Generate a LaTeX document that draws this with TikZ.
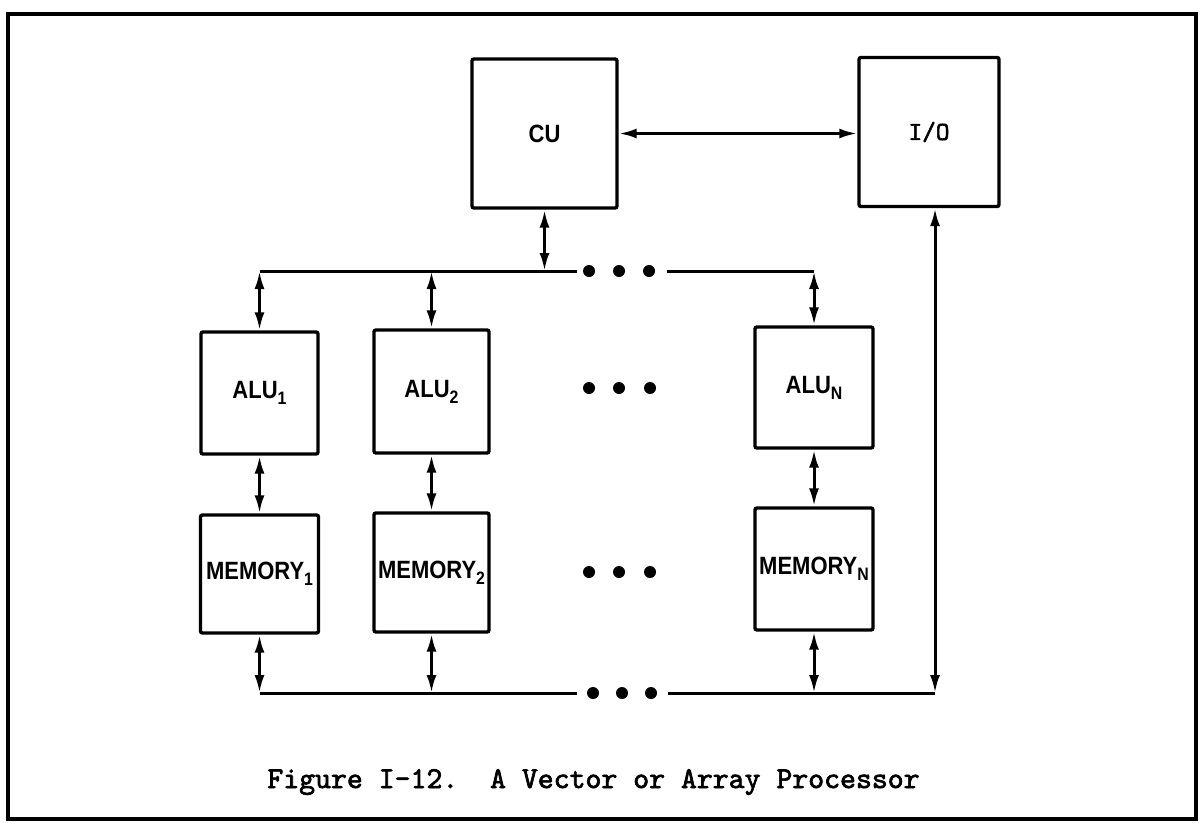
\documentclass[tikz,border=0pt]{standalone}
\usepackage{fontspec}
\newfontfamily\letterfont[FakeStretch=0.88]{Liberation Sans}
\newfontfamily\typefont{lmmono10-regular}[Extension=.otf, AutoFakeBold=2.2]
\usetikzlibrary{arrows.meta}
\newcommand\lsub[1]{\raisebox{-6pt}{\fontsize{18}{18}\selectfont #1}}

\begin{document}
\begin{tikzpicture}[x=1pt, y=-1pt, >={Latex[length=18pt, width=10pt]},
  box/.style={draw, line width=3.4pt, rounded corners=2pt, inner sep=0pt,
    font=\letterfont\bfseries\fontsize{25}{25}\selectfont},
  link/.style={<->, line width=3pt},
  bus/.style={line width=3pt},
  dot/.style={circle, fill, inner sep=0pt, minimum size=12pt}]

\useasboundingbox (0,0) rectangle (1201,822);
\draw[line width=4pt] (8,14) rectangle (1196,819);

% --- CU and I/O ---
\node[box, minimum width=145pt, minimum height=149pt] (cu) at (544.5,133.5) {CU};
\node[box, minimum width=140pt, minimum height=149pt,
  font=\typefont\bfseries\fontsize{26}{26}\selectfont] (io) at (929,132) {I/O};
\draw[link] (cu.east) -- (cu.east -| io.west);

% --- ALUs ---
\node[box, minimum width=117pt, minimum height=122pt] (alu1) at (259.5,393) {ALU\lsub{1}};
\node[box, minimum width=115pt, minimum height=123pt] (alu2) at (431.5,391.5) {ALU\lsub{2}};
\node[box, minimum width=118pt, minimum height=121pt] (aluN) at (814,387.5) {ALU\lsub{N}};

% --- memories ---
\node[box, minimum width=118pt, minimum height=118pt] (mem1) at (259.5,574) {MEMORY\lsub{1}};
\node[box, minimum width=115pt, minimum height=119pt] (mem2) at (431.5,572.5) {MEMORY\lsub{2}};
\node[box, minimum width=118pt, minimum height=122pt] (memN) at (814,569) {MEMORY\lsub{N}};

% top bus
\coordinate (tL) at (259.5,271);
\coordinate (tR) at (814,271);
\coordinate (tgapL) at (577,271);
\coordinate (tgapR) at (667,271);
\foreach \i/\x in {1/589,2/619,3/649}
  \node[dot] (td\i) at (\x,271) {};
\draw[bus] (tL) -- (tgapL);
\draw[bus] (tgapR) -- (tR);
\draw[link] (cu.south) -- (cu.south |- tL);
\draw[link] (tL) -- (alu1);
\draw[link] (alu2 |- tL) -- (alu2);
\draw[link] (tR) -- (aluN);

% ALU <-> memory
\draw[link] (alu1) -- (mem1);
\draw[link] (alu2) -- (mem2);
\draw[link] (aluN) -- (memN);
\foreach \i/\x in {1/589,2/619,3/650} {
  \node[dot] (ad\i) at (\x,388) {};
  \node[dot] (md\i) at (\x,572) {};
}

% bottom bus
\coordinate (bL) at (259.5,693);
\coordinate (bR) at (935,693);
\coordinate (bgapL) at (577,693);
\coordinate (bgapR) at (668,693);
\foreach \i/\x in {1/593,2/622,3/651}
  \node[dot] (bd\i) at (\x,693) {};
\draw[bus] (bL) -- (bgapL);
\draw[bus] (bgapR) -- (bR);
\draw[link] (mem1) -- (bL);
\draw[link] (mem2) -- (mem2 |- bL);
\draw[link] (memN) -- (memN |- bL);
\draw[link] (bR) -- (bR |- io.south);

% caption
\node[anchor=base, font=\typefont\bfseries\fontsize{30.3}{30.3}\selectfont] (caption)
  at (593.5,788) {\frenchspacing Figure I-12.\ \ A Vector or Array Processor};

\end{tikzpicture}
\end{document}
